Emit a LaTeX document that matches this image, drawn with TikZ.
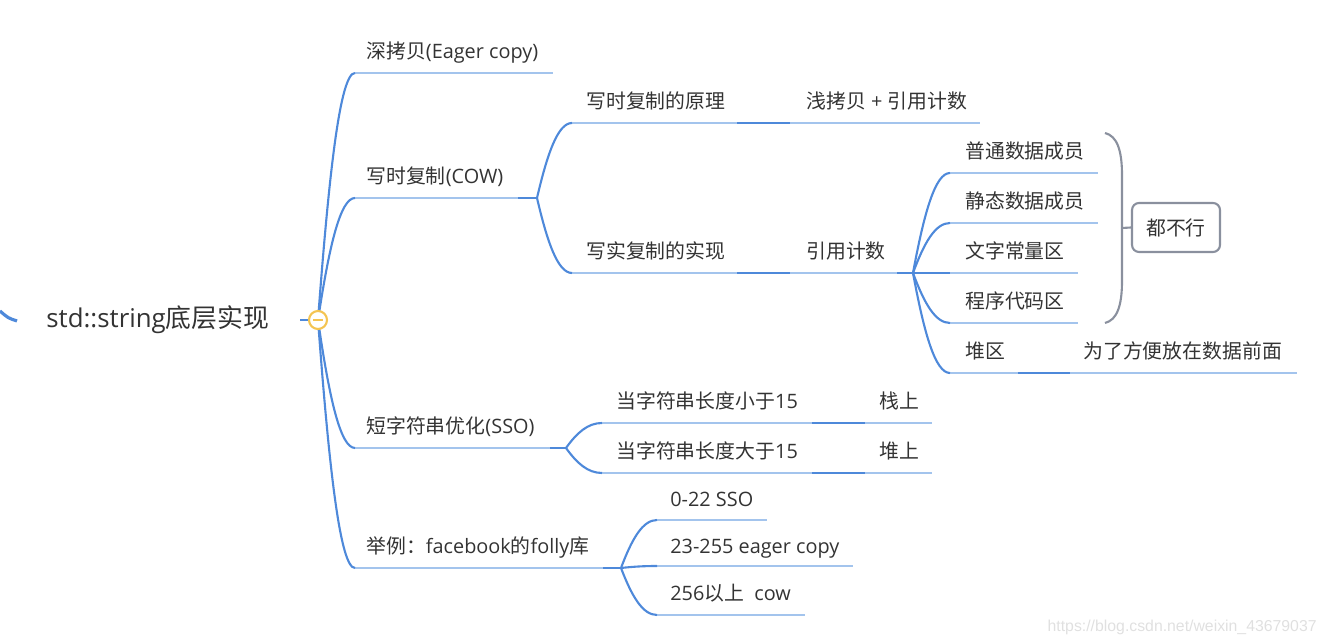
\documentclass[tikz,border=0pt]{standalone}
\usepackage{fontspec}
\setmainfont{Open Sans}
\newfontfamily\cjk{Noto Sans CJK SC}
\newfontfamily\wmfont{Liberation Sans}
\usepackage{xcolor}
\definecolor{mmblue}{RGB}{78,137,218}
\definecolor{mmlight}{RGB}{163,196,237}
\definecolor{mmgray}{RGB}{138,144,158}
\definecolor{mmyellow}{RGB}{244,196,82}
\definecolor{mmtext}{RGB}{51,51,51}
\usepackage{tikz}
\usetikzlibrary{calc}

\tikzset{
  topic/.style={font=\fontsize{11.3}{13}\selectfont, text=mmtext, inner sep=0pt, anchor=base west},
  uline/.style={draw=mmlight, line width=1pt},
  link/.style={draw=mmblue, line width=1.2pt},
  mmcurve/.style={to path={let \p1=(\tikztostart), \p2=(\tikztotarget) in
    .. controls ({\x1+0.3*(\x2-\x1)}, {\y1+0.6*(\y2-\y1)}) and ({\x1+0.6*(\x2-\x1)}, \y2) .. (\tikztotarget)}},
}

\begin{document}
\begin{tikzpicture}[x=0.02cm, y=-0.02cm]
  \useasboundingbox (0,0) rectangle (1326,644);

  % edge of a neighbouring branch
  \coordinate (edge-a) at (0,311);
  \coordinate (edge-b) at (17,321);
  \draw[link, line width=1.8pt] (edge-a) .. controls (8,318) .. (edge-b);

  % Root
  \node[topic, font=\fontsize{14.7}{18}\selectfont] (root) at (46,328) {std::string{\cjk 底层实现}};
  \coordinate (root-s) at (300,320);
  \coordinate (root-c) at (318,320);

  % Level 1
  \coordinate (deep-l) at (355,73);   \coordinate (deep-r) at (553,73);
  \node[topic] (deep) at (366,59) {{\cjk 深拷贝}(Eager copy)};
  \coordinate (cow-l) at (355,198);   \coordinate (cow-r) at (518,198);   \coordinate (cow-b) at (537,198);
  \node[topic] (cow) at (366,184) {{\cjk 写时复制}(COW)};
  \coordinate (sso-l) at (355,448);   \coordinate (sso-r) at (550,448);   \coordinate (sso-b) at (566,448);
  \node[topic] (sso) at (366,434) {{\cjk 短字符串优化}(SSO)};
  \coordinate (folly-l) at (355,568); \coordinate (folly-r) at (603,568); \coordinate (folly-b) at (621,568);
  \node[topic] (folly) at (366,554) {{\cjk 举例：}facebook{\cjk 的}folly{\cjk 库}};

  % COW
  \coordinate (cowp-l) at (572,123);  \coordinate (cowp-r) at (737,123);
  \node[topic] (cowp) at (586,109) {\cjk 写时复制的原理};
  \coordinate (shal-l) at (790,123);  \coordinate (shal-r) at (980,123);
  \node[topic] (shal) at (806,109) {{\cjk 浅拷贝} + {\cjk 引用计数}};
  \coordinate (cowi-l) at (572,273);  \coordinate (cowi-r) at (737,273);
  \node[topic] (cowi) at (586,259) {\cjk 写实复制的实现};
  \coordinate (refc-l) at (790,273);  \coordinate (refc-r) at (897,273);  \coordinate (refc-b) at (913,273);
  \node[topic] (refc) at (806,259) {\cjk 引用计数};

  % reference counting places
  \coordinate (mem-l) at (950,173);   \coordinate (mem-r) at (1098,173);
  \node[topic] (mem) at (965,159) {\cjk 普通数据成员};
  \coordinate (stat-l) at (950,223);  \coordinate (stat-r) at (1098,223);
  \node[topic] (stat) at (965,209) {\cjk 静态数据成员};
  \coordinate (lit-l) at (950,273);   \coordinate (lit-r) at (1078,273);
  \node[topic] (lit) at (965,259) {\cjk 文字常量区};
  \coordinate (code-l) at (950,323);  \coordinate (code-r) at (1078,323);
  \node[topic] (code) at (965,309) {\cjk 程序代码区};
  \coordinate (heap-l) at (950,373);  \coordinate (heap-r) at (1018,373);
  \node[topic] (heap) at (965,359) {\cjk 堆区};
  \coordinate (front-l) at (1070,373); \coordinate (front-r) at (1297,373);
  \node[topic] (front) at (1083,359) {\cjk 为了方便放在数据前面};

  % bracket + summary
  \coordinate (brk-t) at (1105,133);
  \coordinate (brk-m) at (1122,228);
  \coordinate (brk-b) at (1105,323);
  \draw[draw=mmgray, line width=1.2pt] (brk-t) .. controls (1117,136) and (1122,150) .. (1122,175)
    -- (1122,281) .. controls (1122,306) and (1117,320) .. (brk-b);
  \node[draw=mmgray, line width=1.2pt, rounded corners=4pt, text=mmtext, font=\cjk\fontsize{11.3}{13}\selectfont,
        minimum width=1.76cm, minimum height=0.98cm, inner sep=0pt] (nogo) at (1176,227.5) {都不行};
  \draw[draw=mmgray, line width=1.2pt] (brk-m) -- (nogo.west);

  % SSO
  \coordinate (lt-l) at (602,423);    \coordinate (lt-r) at (812,423);
  \node[topic] (lt) at (616,409) {{\cjk 当字符串长度小于}15};
  \coordinate (stk-l) at (865,423);   \coordinate (stk-r) at (932,423);
  \node[topic] (stk) at (879,409) {\cjk 栈上};
  \coordinate (gt-l) at (602,473);    \coordinate (gt-r) at (812,473);
  \node[topic] (gt) at (616,459) {{\cjk 当字符串长度大于}15};
  \coordinate (hp-l) at (865,473);    \coordinate (hp-r) at (932,473);
  \node[topic] (hp) at (879,459) {\cjk 堆上};

  % folly
  \coordinate (fa-l) at (657,520);    \coordinate (fa-r) at (767,520);
  \node[topic] (fa) at (670,507) {0-22 SSO};
  \coordinate (fb-l) at (657,566);    \coordinate (fb-r) at (853,566);
  \node[topic] (fb) at (670,554) {23-255 eager copy};
  \coordinate (fc-l) at (657,615);    \coordinate (fc-r) at (805,615);
  \node[topic] (fc) at (670,601) {256{\cjk 以上}\ \ cow};

  % underlines
  \foreach \t in {deep,cow,sso,folly,cowp,shal,cowi,refc,mem,stat,lit,code,heap,front,lt,stk,gt,hp,fa,fb,fc}
    \draw[uline] (\t-l) -- (\t-r);

  % straight links
  \draw[link] (root-s) -- (root-c);
  \draw[link] (cow-r) -- (cow-b);
  \draw[link] (sso-r) -- (sso-b);
  \draw[link] (folly-r) -- (folly-b);
  \draw[link] (cowp-r) -- (shal-l);
  \draw[link] (cowi-r) -- (refc-l);
  \draw[link] (refc-r) -- (refc-b);
  \draw[link] (heap-r) -- (front-l);
  \draw[link] (lt-r) -- (stk-l);
  \draw[link] (gt-r) -- (hp-l);

  % curved links
  \foreach \t in {deep,cow,sso,folly}
    \draw[link] (root-c) to[mmcurve] (\t-l);
  \foreach \t in {cowp,cowi}
    \draw[link] (cow-b) to[mmcurve] (\t-l);
  \foreach \t in {mem,stat,lit,code,heap}
    \draw[link] (refc-b) to[mmcurve] (\t-l);
  \foreach \t in {lt,gt}
    \draw[link] (sso-b) to[mmcurve] (\t-l);
  \foreach \t in {fa,fb,fc}
    \draw[link] (folly-b) to[mmcurve] (\t-l);

  % fold button
  \node[circle, draw=mmyellow, fill=white, line width=1.2pt, minimum size=0.36cm, inner sep=0pt] (fold) at (root-c) {};
  \draw[mmyellow, line width=1.2pt] ($(fold.center)+(-5,0)$) -- ($(fold.center)+(5,0)$);

  % watermark
  \node[font=\wmfont\fontsize{9}{11}\selectfont, text=black!12, inner sep=0pt, anchor=base east] (wm) at (1317,632) {https://blog.csdn.net/weixin\_43679037};
\end{tikzpicture}
\end{document}
